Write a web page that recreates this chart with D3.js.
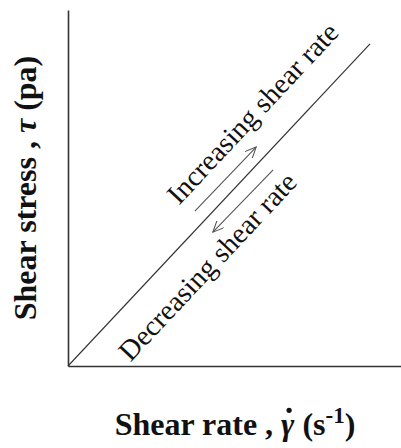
<!DOCTYPE html>
<html>
<head>
<meta charset="utf-8">
<script src="https://cdn.jsdelivr.net/npm/d3@7"></script>
<style>
  html, body { margin: 0; padding: 0; background: #fff; }
  text { font-family: "Times New Roman", "Liberation Serif", serif; }
</style>
</head>
<body>
<svg id="chart" width="401" height="448"></svg>
<script>
// ---- data (arbitrary units) ----
const xDomain = [0, 10];
const yDomain = [0, 10];
const flowLine = [[0, 0], [9.07, 9.05]];
const increasingArrow = [[3.81, 4.35], [5.65, 6.15]];
const decreasingArrow = [[6.16, 5.51], [4.35, 3.76]];
const labels = ["Increasing shear rate", "Decreasing shear rate"];
const labelAnchors = [[3.33, 4.5], [1.88, 0.1]];

const svg = d3.select("#chart");
const margin = { left: 68, top: 10, right: 0, bottom: 82 };
const W = 401, H = 448;

const x = d3.scaleLinear().domain(xDomain).range([margin.left, W - margin.right]);
const y = d3.scaleLinear().domain(yDomain).range([H - margin.bottom, margin.top]);

// axes (no ticks)
svg.append("g").attr("transform", `translate(0,${y(0)})`)
  .call(d3.axisBottom(x).tickValues([]).tickSizeOuter(0));
svg.append("g").attr("transform", `translate(${x(0)},0)`)
  .call(d3.axisLeft(y).tickValues([]).tickSizeOuter(0));
svg.selectAll(".domain").attr("stroke", "#333").attr("stroke-width", 1.6);

// main line
const line = d3.line().x(d => x(d[0])).y(d => y(d[1]));
svg.append("path").datum(flowLine).attr("d", line)
  .attr("fill", "none").attr("stroke", "#333").attr("stroke-width", 1.2);

// arrowhead marker
svg.append("defs").append("marker")
  .attr("id", "arr").attr("viewBox", "0 0 12 10").attr("refX", 11).attr("refY", 5)
  .attr("markerWidth", 12).attr("markerHeight", 10).attr("markerUnits", "userSpaceOnUse")
  .attr("orient", "auto")
  .append("path").attr("d", "M0,0 L11,5 L0,10").attr("fill", "none")
  .attr("stroke", "#555").attr("stroke-width", 1.1);

[increasingArrow, decreasingArrow].forEach(a => {
  svg.append("path").datum(a).attr("d", line)
    .attr("fill", "none").attr("stroke", "#555").attr("stroke-width", 1.1)
    .attr("marker-end", "url(#arr)");
});

// angle of the line on screen
const ang = Math.atan2(y(flowLine[0][1]) - y(flowLine[1][1]), x(flowLine[1][0]) - x(flowLine[0][0])) * 180 / Math.PI;

labels.forEach((t, i) => {
  const p = labelAnchors[i];
  svg.append("text")
    .attr("transform", `translate(${x(p[0])},${y(p[1])}) rotate(${-ang})`)
    .attr("font-size", 28.5).attr("fill", "#111")
    .text(t);
});

// x axis title
const xt = svg.append("text").attr("x", 235).attr("y", 435)
  .attr("text-anchor", "middle").attr("font-size", 32).attr("font-weight", "bold").attr("fill", "#111");
xt.append("tspan").text("Shear rate , ");
const gam = xt.append("tspan").attr("font-style", "italic").text("γ");
xt.append("tspan").text(" (s");
xt.append("tspan").attr("font-size", 23).attr("dy", -12).text("-1");
xt.append("tspan").attr("dy", 12).text(")");

// dot over gamma
const node = xt.node();
const gi = "Shear rate , ".length;
const ext = node.getExtentOfChar(gi);
svg.append("circle")
  .attr("cx", ext.x + ext.width * 0.6).attr("cy", ext.y + ext.height * 0.12)
  .attr("r", 2.6).attr("fill", "#111");

// y axis title
const yt = svg.append("text").attr("transform", "translate(36,188) rotate(-90)")
  .attr("text-anchor", "middle").attr("font-size", 32).attr("font-weight", "bold").attr("fill", "#111");
yt.append("tspan").text("Shear stress , ");
yt.append("tspan").attr("font-style", "italic").text("τ");
yt.append("tspan").text("  (pa)");
</script>
</body>
</html>
